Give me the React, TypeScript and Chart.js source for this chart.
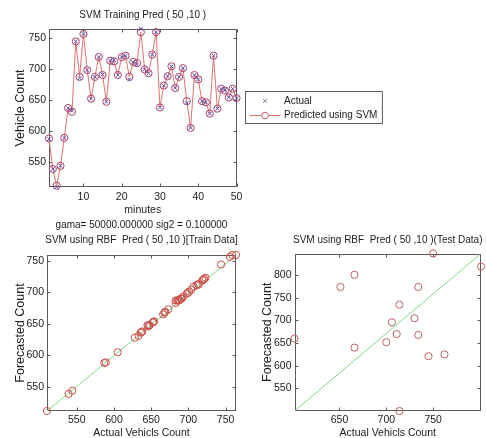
import React, { useEffect, useRef } from "react";
import { Chart, registerables } from "chart.js";

Chart.register(...registerables);

// ---------- data ----------
const minutes = Array.from({ length: 50 }, (_, i) => i + 1);

const predicted = [
  588, 539, 512, 544, 589, 637, 631, 744, 687, 756,
  698, 652, 687, 719, 690, 647, 713, 712, 690, 719,
  721, 687, 711, 709, 759, 699, 693, 723, 759, 638,
  673, 688, 704, 669, 687, 701, 648, 605, 690, 683,
  648, 646, 628, 721, 636, 668, 665, 654, 668, 653,
];

const actual = [
  587, 539, 510, 544, 589, 637, 633, 744, 685, 756,
  698, 652, 687, 719, 691, 647, 713, 714, 690, 719,
  721, 683, 711, 707, 764, 699, 693, 723, 759, 638,
  673, 688, 704, 669, 687, 701, 645, 605, 690, 683,
  648, 646, 628, 721, 636, 668, 666, 654, 668, 653,
];

const testActual = [750, 801, 666, 651, 734, 714, 730, 706, 711, 734, 700, 602, 666, 745, 762, 714];
const testPredicted = [848, 819, 801, 774, 774, 735, 705, 696, 670, 668, 652, 660, 640, 621, 625, 500];

const topXTicks = [10, 20, 30, 40, 50];
const topYTicks = [550, 600, 650, 700, 750];
const trainXTicks = [550, 600, 650, 700, 750];
const trainYTicks = [550, 600, 650, 700, 750];
const testXTicks = [650, 700, 750];
const testYTicks = [550, 600, 650, 700, 750, 800];

// ---------- styles ----------
const FONT = "'Liberation Sans', Arial, Helvetica, sans-serif";
const TEXT = "#1c1c1c";
const FRAME = "#5a5a5a";
const ACTUAL_C = "#5a52a8";
const PRED_LINE = "#e27272";
const PRED_PT = "#a8426e";
const TRAIN_PT = "#c8524c";
const TEST_PT = "#b86464";
const DIAG = "#86d586";

type TitleSpec = { text: string; y: number };

function makeFrame(titles: TitleSpec[], legend: boolean) {
  return {
    id: "frame",
    beforeDatasetsDraw(chart: any) {
      const { ctx, chartArea: a, scales } = chart;
      ctx.save();
      ctx.strokeStyle = FRAME;
      ctx.lineWidth = 1;
      const l = Math.round(a.left) + 0.5;
      const r = Math.round(a.right) - 0.5;
      const t = Math.round(a.top) + 0.5;
      const b = Math.round(a.bottom) - 0.5;
      ctx.strokeRect(l, t, r - l, b - t);
      ctx.beginPath();
      const xs = scales.x;
      const ys = scales.y;
      xs.ticks.forEach((tk: any) => {
        const px = Math.round(xs.getPixelForValue(tk.value)) + 0.5;
        ctx.moveTo(px, b);
        ctx.lineTo(px, b - 3);
        ctx.moveTo(px, t);
        ctx.lineTo(px, t + 3);
      });
      ys.ticks.forEach((tk: any) => {
        const py = Math.round(ys.getPixelForValue(tk.value)) + 0.5;
        ctx.moveTo(l, py);
        ctx.lineTo(l + 3, py);
        ctx.moveTo(r, py);
        ctx.lineTo(r - 3, py);
      });
      ctx.stroke();
      ctx.restore();
    },
    afterDraw(chart: any) {
      const { ctx, chartArea: a } = chart;
      ctx.save();
      ctx.fillStyle = TEXT;
      ctx.font = `10px ${FONT}`;
      ctx.textAlign = "center";
      ctx.textBaseline = "middle";
      const cx = (a.left + a.right) / 2;
      titles.forEach((tt) => ctx.fillText(tt.text, cx, tt.y));
      if (legend) {
        const ds = chart.data.datasets;
        const textX = 284;
        ctx.textAlign = "left";
        const w = Math.max(ctx.measureText(ds[0].label).width, ctx.measureText(ds[1].label).width);
        const bx = 245.5, by = 91.5, bh = 32;
        const bw = textX + w + 5 - bx;
        ctx.fillStyle = "#ffffff";
        ctx.fillRect(bx, by, bw, bh);
        ctx.strokeStyle = FRAME;
        ctx.lineWidth = 1;
        ctx.strokeRect(bx, by, bw, bh);
        const y1 = 101, y2 = 115;
        // row 1: cross
        ctx.strokeStyle = "#8a8ab0";
        ctx.beginPath();
        ctx.moveTo(263, y1 - 2);
        ctx.lineTo(267, y1 + 2);
        ctx.moveTo(267, y1 - 2);
        ctx.lineTo(263, y1 + 2);
        ctx.stroke();
        // row 2: line + circle
        ctx.strokeStyle = ds[1].borderColor;
        ctx.beginPath();
        ctx.moveTo(250, y2 + 0.5);
        ctx.lineTo(280, y2 + 0.5);
        ctx.stroke();
        ctx.strokeStyle = "#d05a6a";
        ctx.fillStyle = "#ffffff";
        ctx.beginPath();
        ctx.arc(265, y2 + 0.5, 3.3, 0, Math.PI * 2);
        ctx.fill();
        ctx.stroke();
        ctx.fillStyle = TEXT;
        ctx.fillText(ds[0].label, textX, y1);
        ctx.fillText(ds[1].label, textX, y2);
      }
      ctx.restore();
    },
  };
}

type ScaleSpec = {
  min: number; max: number; ticks: number[]; title: string;
  size: number; tickPad: number; titlePad: number;
};

function xScale(s: ScaleSpec) {
  return {
    type: "linear",
    position: "bottom",
    min: s.min,
    max: s.max,
    grid: { display: false, drawTicks: false },
    border: { display: false },
    ticks: {
      font: { family: FONT, size: 10.5 },
      color: TEXT,
      padding: s.tickPad,
      maxRotation: 0,
      autoSkip: false,
      callback: (v: any) => String(v),
    },
    afterBuildTicks: (axis: any) => {
      axis.ticks = s.ticks.map((v) => ({ value: v }));
    },
    afterFit: (axis: any) => {
      axis.height = s.size;
    },
    title: {
      display: true,
      text: s.title,
      color: TEXT,
      font: { family: FONT, size: 10.5, lineHeight: 1 },
      padding: { top: 0, bottom: s.titlePad },
    },
  };
}

function yScale(s: ScaleSpec) {
  return {
    type: "linear",
    position: "left",
    min: s.min,
    max: s.max,
    grid: { display: false, drawTicks: false },
    border: { display: false },
    ticks: {
      font: { family: FONT, size: 10.5 },
      color: TEXT,
      padding: s.tickPad,
      autoSkip: false,
      callback: (v: any) => String(v),
    },
    afterBuildTicks: (axis: any) => {
      axis.ticks = s.ticks.map((v) => ({ value: v }));
    },
    afterFit: (axis: any) => {
      axis.width = s.size;
    },
    title: {
      display: true,
      text: s.title,
      color: TEXT,
      font: { family: FONT, size: 12.5, lineHeight: 1.2 },
      padding: { top: s.titlePad, bottom: 0 },
    },
  };
}

function baseOptions(padding: any, scales: any) {
  return {
    responsive: false,
    animation: false,
    events: [],
    layout: { padding },
    plugins: { legend: { display: false }, tooltip: { enabled: false }, title: { display: false } },
    scales,
  };
}

function topConfig() {
  const yMin = Math.min(...actual, ...predicted);
  const yMax = Math.max(...actual, ...predicted);
  return {
    type: "scatter",
    data: {
      datasets: [
        {
          label: "Actual",
          data: minutes.map((m, i) => ({ x: m, y: actual[i] })),
          showLine: false,
          pointStyle: "crossRot",
          pointRadius: 2.6,
          pointBorderColor: ACTUAL_C,
          pointBorderWidth: 1,
          clip: false,
        },
        {
          label: "Predicted using SVM",
          data: minutes.map((m, i) => ({ x: m, y: predicted[i] })),
          showLine: true,
          borderColor: PRED_LINE,
          borderWidth: 1,
          tension: 0,
          pointStyle: "circle",
          pointRadius: 3.6,
          pointBorderColor: PRED_PT,
          pointBackgroundColor: "rgba(0,0,0,0)",
          pointBorderWidth: 1,
          clip: false,
        },
      ],
    },
    options: baseOptions(
      { left: 0, top: 29, right: 249.5, bottom: 0 },
      {
        x: xScale({ min: 1, max: 50, ticks: topXTicks, title: "minutes", size: 33, tickPad: 4, titlePad: 5 }),
        y: yScale({ min: yMin, max: yMax, ticks: topYTicks, title: "Vehicle Count", size: 49, tickPad: 3, titlePad: 13.5 }),
      }
    ),
    plugins: [makeFrame([{ text: "SVM Training Pred ( 50 ,10 )", y: 15.5 }], true)],
  };
}

function scatterConfig(
  xs: number[], ys: number[], color: string, xTicks: number[], yTicks: number[],
  padding: any, yWidth: number, yTitlePad: number, titles: TitleSpec[]
) {
  const xMin = Math.min(...xs), xMax = Math.max(...xs);
  const yMin = Math.min(...ys), yMax = Math.max(...ys);
  return {
    type: "scatter",
    data: {
      datasets: [
        {
          label: "points",
          data: xs.map((x, i) => ({ x, y: ys[i] })),
          showLine: false,
          pointStyle: "circle",
          pointRadius: 3.6,
          pointBorderColor: color,
          pointBackgroundColor: "rgba(0,0,0,0)",
          pointBorderWidth: 1,
          clip: false,
        },
        {
          label: "diagonal",
          data: [{ x: xMin, y: yMin }, { x: xMax, y: yMax }],
          showLine: true,
          borderColor: DIAG,
          borderWidth: 1,
          pointRadius: 0,
        },
      ],
    },
    options: baseOptions(padding, {
      x: xScale({ min: xMin, max: xMax, ticks: xTicks, title: "Actual Vehicls Count", size: 27, tickPad: 3, titlePad: 0 }),
      y: yScale({ min: yMin, max: yMax, ticks: yTicks, title: "Forecasted Count", size: yWidth, tickPad: 3, titlePad: yTitlePad }),
    }),
    plugins: [makeFrame(titles, false)],
  };
}

function ChartCanvas(props: { config: any; left: number; top: number; width: number; height: number }) {
  const ref = useRef<HTMLCanvasElement>(null);
  useEffect(() => {
    const chart = new Chart(ref.current as HTMLCanvasElement, props.config);
    return () => chart.destroy();
  }, []);
  return (
    <canvas
      ref={ref}
      width={props.width}
      height={props.height}
      style={{ position: "absolute", left: props.left, top: props.top, width: props.width, height: props.height }}
    />
  );
}

export default function App() {
  return (
    <div style={{ position: "absolute", left: 0, top: 0, width: 486, height: 438, background: "#ffffff", overflow: "hidden" }}>
      <ChartCanvas config={topConfig()} left={0} top={0} width={486} height={220} />
      <ChartCanvas
        config={scatterConfig(actual, predicted, TRAIN_PT, trainXTicks, trainYTicks,
          { left: 0, top: 39, right: 7, bottom: 0 }, 47, 13,
          [
            { text: "gama= 50000.000000 sig2 = 0.100000", y: 9.5 },
            { text: "SVM using RBF  Pred ( 50 ,10 )[Train Data]", y: 24.5 },
          ])}
        left={0} top={216} width={243} height={222}
      />
      <ChartCanvas
        config={scatterConfig(testActual, testPredicted, TEST_PT, testXTicks, testYTicks,
          { left: 0, top: 37.5, right: 5, bottom: 0 }, 51.5, 17.5,
          [{ text: "SVM using RBF  Pred ( 50 ,10 )(Test Data)", y: 24.5 }])}
        left={243} top={216} width={243} height={222}
      />
    </div>
  );
}
